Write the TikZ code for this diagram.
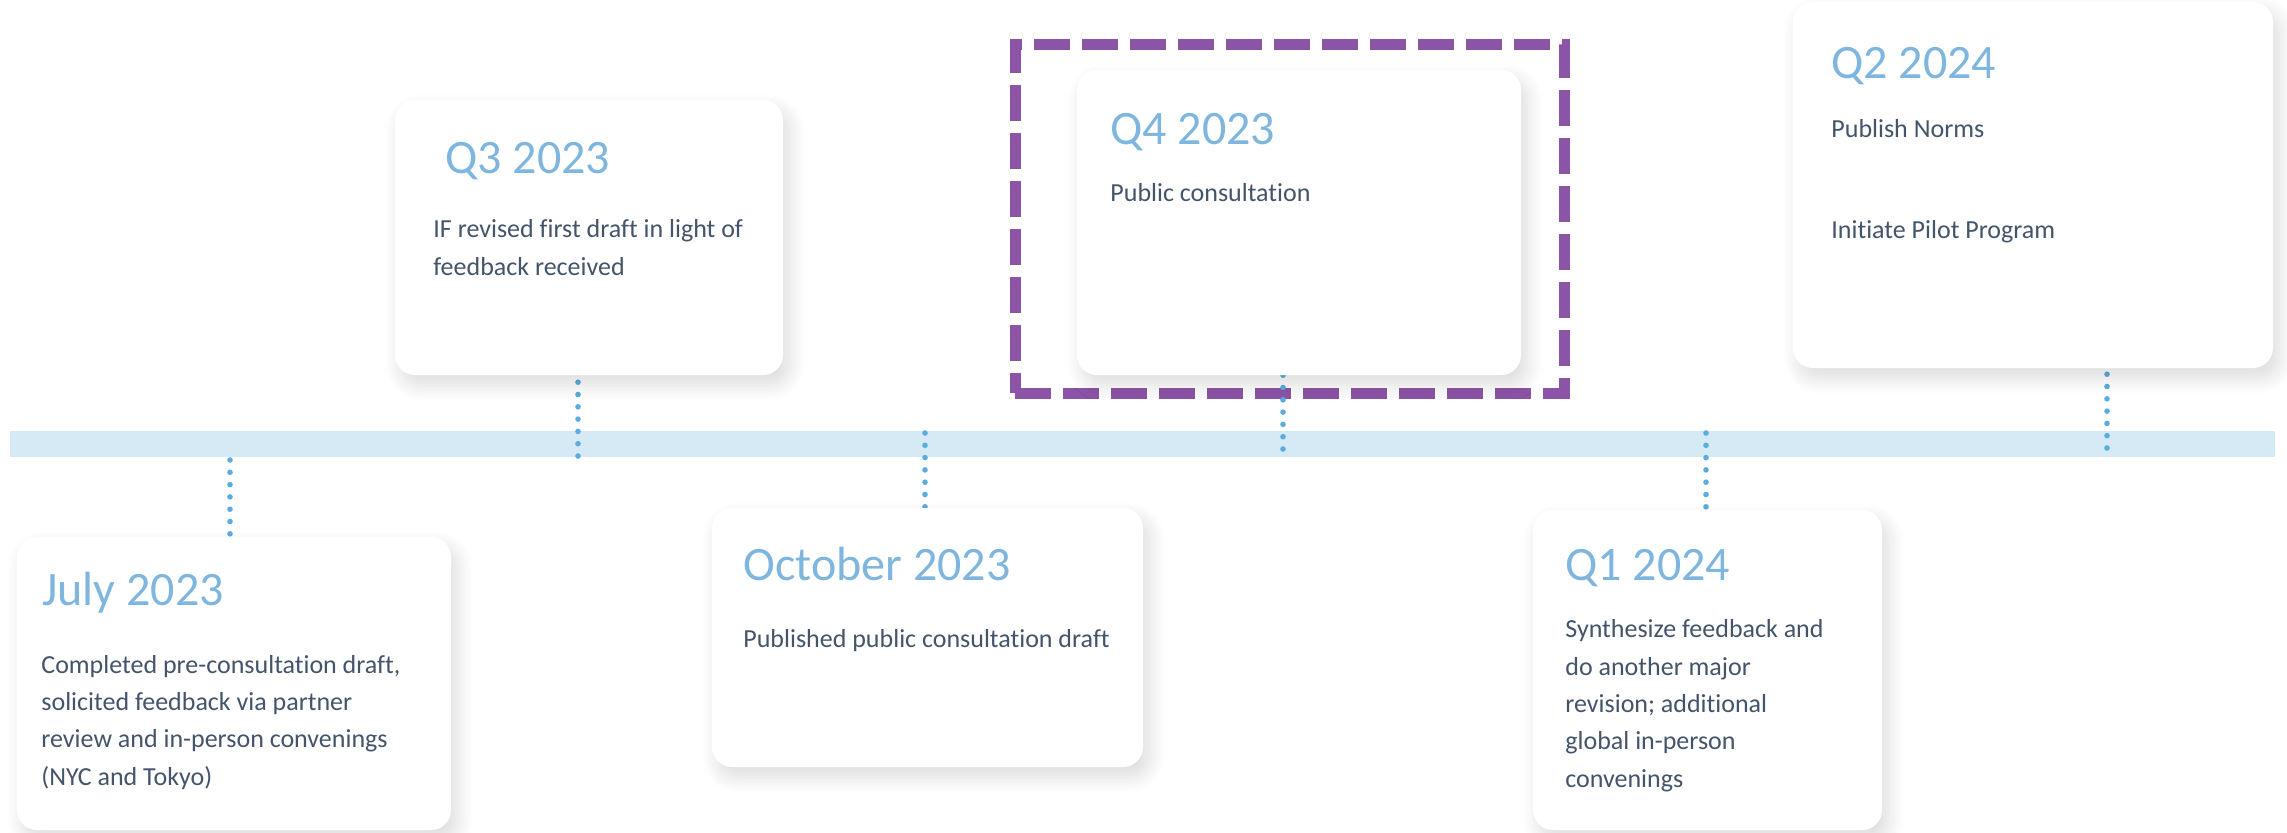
\documentclass[tikz,border=0pt]{standalone}
\usepackage{fontspec}
\setmainfont{Carlito}[Ligatures=NoCommon]
\usetikzlibrary{shadows.blur,fit}
\definecolor{titleblue}{HTML}{7EB6DF}
\definecolor{bodyslate}{HTML}{44546A}
\definecolor{bandblue}{HTML}{D6EAF5}
\definecolor{dotblue}{HTML}{5BACE0}
\definecolor{hilite}{HTML}{8C54A6}
\tikzset{
  card/.style={fill=white, rounded corners=10pt, inner sep=0pt,
    blur shadow={shadow xshift=3pt, shadow yshift=-5pt, shadow blur radius=8pt,
      shadow blur steps=12, shadow opacity=14}},
  when/.style={anchor=base west, inner sep=0pt, text=titleblue,
    font=\fontsize{24}{28}\selectfont},
  what/.style={anchor=base west, inner sep=0pt, text=bodyslate, align=left,
    font=\fontsize{13}{18.65}\selectfont},
  tick/.style={draw=dotblue, line width=2.8pt, line cap=round,
    dash pattern=on 0pt off 6.15pt},
  focusbox/.style={draw=hilite, line width=5.5pt, dash pattern=on 18pt off 6pt,
    inner sep=0pt},
}
\begin{document}
\begin{tikzpicture}[x=0.5pt,y=-0.5pt]
\useasboundingbox (0,0) rectangle (2287,832);

% timeline band
\node[fill=bandblue, inner sep=0pt, fit={(10,431) (2275,457)}] (band) {};
% highlight frame around the Q4 milestone
\node[focusbox, fit={(1015,44) (1564,393)}] (focus) {};

% points where the milestones meet the band
\coordinate (t1) at (230,460);
\coordinate (t2) at (578,456);
\coordinate (t3) at (925,433);
\coordinate (t4) at (1283,449);
\coordinate (t5) at (1706,433);
\coordinate (t6) at (2107,448);

% card corners
\path (17,537) coordinate (julyA) (451,830) coordinate (julyB);
\path (395,100) coordinate (q3A) (783,375) coordinate (q3B);
\path (712,508) coordinate (octA) (1143,767) coordinate (octB);
\path (1077,70) coordinate (q4A) (1521,375) coordinate (q4B);
\path (1533,510) coordinate (q1A) (1882,830) coordinate (q1B);
\path (1793,2) coordinate (q2A) (2273,368) coordinate (q2B);

% dotted ticks from the band to the cards, tucked under the cards
\draw[tick] (t1) -- (t1 |- julyA);
\draw[tick] (t2) -- (t2 |- q3B);
\draw[tick] (t3) -- (t3 |- octA);
\draw[tick] (t4) -- (t4 |- q4B);
\draw[tick] (t5) -- (t5 |- q1A);
\draw[tick] (t6) -- (t6 |- q2B);

% milestone cards
\node[card, fit=(julyA)(julyB)] (july) {};
\node[card, fit=(q3A)(q3B)] (q3) {};
\node[card, fit=(octA)(octB)] (oct) {};
\node[card, fit=(q4A)(q4B)] (q4) {};
\node[card, fit=(q1A)(q1B)] (q1) {};
\node[card, fit=(q2A)(q2B)] (q2) {};

% titles
\node[when] (julyT) at (42,605) {July 2023};
\node[when] (q3T) at (445,173) {Q3 2023};
\node[when] (octT) at (743,580) {October 2023};
\node[when] (q4T) at (1110,144) {Q4 2023};
\node[when] (q1T) at (1565,580) {Q1 2024};
\node[when] (q2T) at (1831,78) {Q2 2024};

% descriptions (anchored at the baseline of their last line)
\node[what] (julyD) at (41,785) {Completed pre-consultation draft,\\solicited feedback via partner\\review and in-person convenings\\(NYC and Tokyo)};
\node[what] (q3D) at (433,275) {IF revised first draft in light of\\feedback received};
\node[what] (octD) at (743,647) {Published public consultation draft};
\node[what] (q4D) at (1110,201) {Public consultation};
\node[what] (q1D) at (1565,787) {Synthesize feedback and\\do another major\\revision; additional\\global in-person\\convenings};
\node[what] (q2D) at (1831,137) {Publish Norms};
\node[what] (q2E) at (1831,238) {Initiate Pilot Program};
\end{tikzpicture}
\end{document}
